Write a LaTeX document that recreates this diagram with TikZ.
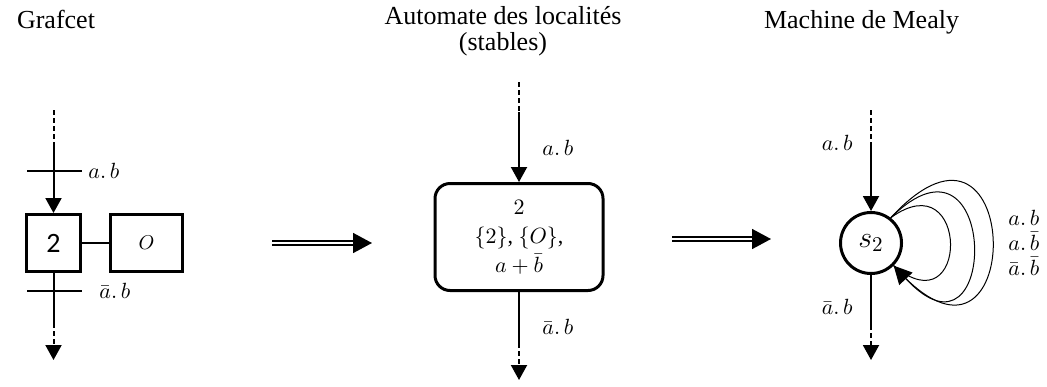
\RequirePackage{fix-cm}
\documentclass[tikz,border=0pt]{standalone}
\usepackage{amsmath}
\usepackage{amssymb}
\usepackage{fontspec}
\setmainfont{Liberation Serif}
\newfontfamily\calibri{Carlito}
\usepackage{tikz}
\usetikzlibrary{positioning,arrows.meta}

\tikzset{
  title/.style={font=\fontsize{13}{15}\selectfont, anchor=base},
  lbl/.style={font=\fontsize{11}{13}\selectfont, inner sep=0pt},
  etape/.style={draw, rectangle, line width=1.5pt, minimum width=27pt, minimum height=28.5pt, inner sep=0pt},
  flow/.style={line width=1pt, -{Triangle[length=7.5pt,width=8pt]}},
  dashseg/.style={line width=1pt, dash pattern=on 2.5pt off 1.5pt},
  dashflow/.style={flow, dash pattern=on 2.5pt off 1.5pt},
  trans/.style={line width=1pt},
  implique/.style={double, double distance=1.1pt, line width=1.1pt},
  impliquetip/.style={line width=0.8pt, -{Triangle[length=9.5pt,width=10pt]}},
  loopline/.style={line width=0.5pt},
}

\begin{document}
\begin{tikzpicture}[x=0.5pt, y=0.5pt]
\useasboundingbox (0,0) rectangle (1047,-386);

% titres
\node[title, anchor=base west] (tgraf) at (10,-28) {Grafcet};
\node[title] (tauto) at (503,-24) {Automate des localités};
\node[title] (tstab) at (503,-50) {(stables)};
\node[title, anchor=base west] (tmealy) at (757,-28) {Machine de Mealy};

% grafcet
\node[etape] (g2) at (53.5,-243) {\calibri\fontsize{14}{16}\selectfont 2};
\node[etape, minimum width=36pt, right=13.5pt of g2] (gO) {\fontsize{10}{12}\selectfont $O$};
\draw[line width=0.8pt] (g2) -- (gO);

\coordinate (gtop) at (53.5,-110);
\coordinate (gmid) at (53.5,-143);
\draw[dashseg] (gtop) -- (gmid);
\draw[flow] (gmid) -- (g2);
\draw[trans] (27,-171) -- (82,-171);
\node[lbl, anchor=west] (gab) at (88,-171) {$a.\,b$};

\coordinate (gbot) at (53.5,-323);
\coordinate (gend) at (53.5,-360);
\draw[trans] (g2) -- (gbot);
\draw[dashflow] (gbot) -- (gend);
\draw[trans] (27,-291) -- (82,-291);
\node[lbl, anchor=west] (gnab) at (99,-291) {$\bar{a}.\,b$};

% fleches doubles
\coordinate (i1a) at (272,-243);
\coordinate (i1b) at (354,-243);
\coordinate (i1c) at (372,-243);
\draw[implique] (i1a) -- (i1b);
\draw[impliquetip] (i1b) -- (i1c);

\coordinate (i2a) at (672,-239);
\coordinate (i2b) at (753,-239);
\coordinate (i2c) at (771,-239);
\draw[implique] (i2a) -- (i2b);
\draw[impliquetip] (i2b) -- (i2c);

% automate des localites
\node[draw, rounded corners=7.5pt, line width=1.5pt, minimum width=84pt, minimum height=53.5pt,
      align=center, font=\fontsize{11}{14.5}\selectfont] (loc) at (519,-237)
      {$2$\\ $\{2\}$, $\{O\}$,\\ $a+\bar{b}$};

\coordinate (ltop) at (519,-82);
\coordinate (lmid) at (519,-112);
\draw[dashseg] (ltop) -- (lmid);
\draw[flow] (lmid) -- (loc);
\node[lbl, anchor=west] (lab) at (542,-148) {$a.\,b$};

\coordinate (lbot) at (519,-343);
\coordinate (lend) at (519,-380);
\draw[trans] (loc) -- (lbot);
\draw[dashflow] (lbot) -- (lend);
\node[lbl, anchor=west] (lnab) at (542,-327) {$\bar{a}.\,b$};

% machine de Mealy
\node[draw, circle, line width=1.5pt, minimum size=30.5pt, inner sep=0pt] (s2) at (871,-243)
      {\fontsize{15}{18}\selectfont $s_2$};

\coordinate (mtop) at (871,-110);
\coordinate (mmid) at (871,-143);
\draw[dashseg] (mtop) -- (mmid);
\draw[flow] (mmid) -- (s2);
\node[lbl, anchor=east] (mab) at (853,-143) {$a.\,b$};

\coordinate (mbot) at (871,-325);
\coordinate (mend) at (871,-360);
\draw[trans] (s2) -- (mbot);
\draw[dashflow] (mbot) -- (mend);
\node[lbl, anchor=east] (mnab) at (853,-307) {$\bar{a}.\,b$};

\draw[loopline] (s2.52) .. controls (970,-160) and (970,-330) .. (s2.-45);
\draw[loopline, -{Triangle[length=9pt,width=9pt]}] (s2.52) .. controls (1000,-110) and (1000,-380) .. (s2.-45);
\draw[loopline] (s2.52) .. controls (1027,-70) and (1027,-418) .. (s2.-45);
\node[lbl, anchor=west, align=left, font=\fontsize{11}{12.5}\selectfont] (mloop) at (1008,-243)
      {$a.\,b$\\ $a.\,\bar{b}$\\ $\bar{a}.\,\bar{b}$};

\end{tikzpicture}
\end{document}
